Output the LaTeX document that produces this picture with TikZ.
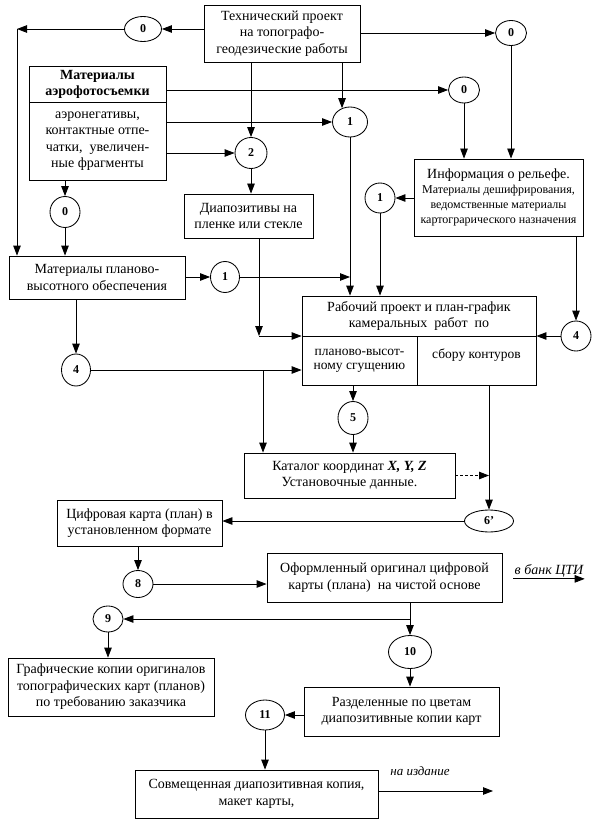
\documentclass[tikz,border=0pt]{standalone}
\usepackage{fontspec}
\setmainfont{Liberation Serif}
\usetikzlibrary{shapes.geometric,arrows.meta}

\begin{document}
\begin{tikzpicture}[x=1pt, y=-1pt, line width=0.85pt, >={Triangle[length=10pt,width=7.5pt]},
  blok/.style={draw, rectangle, align=center, inner sep=2pt, font=\fontsize{14}{16.5}\selectfont},
  krug/.style={draw, ellipse, inner sep=0pt, minimum width=31, minimum height=28, font=\fontsize{12}{13}\selectfont\bfseries}]
\useasboundingbox (0,0) rectangle (605,826);
% boxes
\node[blok, minimum width=156, minimum height=57] (tp) at (282,33.5) {Технический проект\\на топографо-\\геодезические работы};
\node[blok, minimum width=137, minimum height=36, font=\fontsize{14}{16}\selectfont\bfseries] (aeroT) at (97.5,84) {Материалы\\аэрофотосъемки};
\node[blok, minimum width=137, minimum height=78] (aeroB) at (97.5,141) {аэронегативы,\\контактные отпе-\\чатки, \ увеличен-\\ные фрагменты};
\node[blok, minimum width=169, minimum height=77, font=\fontsize{12}{15}\selectfont] (info) at (498.5,197.5) {{\fontsize{14}{15}\selectfont Информация о рельефе.}\\Материалы дешифрирования,\\ведомственные материалы\\картограрического назначения};
\node[blok, minimum width=129, minimum height=44] (dia) at (248.5,216) {Диапозитивы на\\пленке или стекле};
\node[blok, minimum width=176, minimum height=43] (mpv) at (97,277.5) {Материалы планово-\\высотного обеспечения};
\node[blok, minimum width=234, minimum height=40, font=\fontsize{14}{15.5}\selectfont] (rpT) at (419,316) {Рабочий проект и план-график\\камеральных \ работ \ по};
\node[blok, minimum width=115, minimum height=49, font=\fontsize{13.5}{14}\selectfont] (rpL) at (359.5,360.5) {планово-высот-\\ному сгущению};
\node[blok, minimum width=119, minimum height=49, font=\fontsize{13.5}{14}\selectfont] (rpR) at (476.5,360.5) {сбору контуров\\\mbox{}};
\node[blok, minimum width=211, minimum height=45] (kat) at (349.5,475.5) {Каталог координат \textbf{\textit{X, Y, Z}}\\Установочные данные.};
\node[blok, minimum width=165, minimum height=46] (cif) at (139.5,523) {Цифровая карта (план) в\\установленном формате};
\node[blok, minimum width=235, minimum height=49] (of) at (384.5,577.5) {Оформленный оригинал цифровой\\карты (плана) \ на чистой основе};
\node[blok, minimum width=206, minimum height=58] (graf) at (111,687) {Графические копии оригиналов\\топографических карт (планов)\\по требованию заказчика};
\node[blok, minimum width=195, minimum height=49] (raz) at (401.5,711.5) {Разделенные по цветам\\диапозитивные копии карт};
\node[blok, minimum width=243, minimum height=48] (sov) at (256.5,794) {Совмещенная диапозитивная копия,\\макет карты,};
% circles
\node[krug, minimum width=37, minimum height=25] (z0a) at (143,29) {0};
\node[krug, minimum height=25] (z0b) at (511,33) {0};
\node[krug, minimum height=26] (z0c) at (464,90) {0};
\node[krug, minimum width=35, minimum height=30] (z1a) at (350,122) {1};
\node[krug, minimum width=32, minimum height=31] (z2) at (251,153) {2};
\node[krug, minimum width=30, minimum height=31] (z0d) at (65,212) {0};
\node[krug, minimum width=30, minimum height=30] (z1b) at (380,198) {1};
\node[krug, minimum width=29, minimum height=31] (z1c) at (225,277) {1};
\node[krug, minimum width=29, minimum height=32] (z4a) at (76,370) {4};
\node[krug, minimum width=30, minimum height=30] (z4b) at (576,336) {4};
\node[krug, minimum width=30, minimum height=33] (z5) at (353,418) {5};
\node[krug, minimum width=49, minimum height=22] (z6) at (489,521) {6’};
\node[krug, minimum width=30, minimum height=27] (z8) at (138,584) {8};
\node[krug, minimum width=30, minimum height=26] (z9) at (108,619) {9};
\node[krug, minimum width=43, minimum height=33] (z10) at (410,652) {10};
\node[krug, minimum width=39, minimum height=30] (z11) at (265,715) {11};
% free texts
\node[inner sep=1pt, font=\fontsize{14}{15}\selectfont\itshape] (bank) at (549,571) {в банк ЦТИ};
\node[font=\fontsize{13}{14}\selectfont\itshape] (izdT) at (420,771) {на издание};
\coordinate (ugol) at (17,29);
\coordinate (d1) at (259,336);
\coordinate (v4) at (263,370);
\coordinate (izd) at (493,791);
% connectors
\draw[->] (tp.west |- z0a) -- (z0a);
\draw[->] (z0a) -- (ugol);
\draw[->] (ugol) -- (ugol |- mpv.north);
\draw[->] (tp.east |- z0b) -- (z0b);
\draw[->] (z0b) -- (z0b |- info.north);
\draw[->] (aeroT.east |- z0c) -- (z0c);
\draw[->] (z0c) -- (z0c |- info.north);
\draw[->] (aeroB.east |- z1a) -- (z1a);
\draw[->] (tp.south -| z1a.120) -- (z1a.120);
\draw[->] (aeroB.east |- z2) -- (z2);
\draw[->] (tp.south -| z2) -- (z2);
\draw[->] (z2) -- (z2 |- dia.north);
\draw[->] (aeroB.south -| z0d) -- (z0d);
\draw[->] (z0d) -- (z0d |- mpv.north);
\draw[->] (mpv.east |- z1c) -- (z1c);
\draw[->] (z1c) -- (z1c -| z1a);
\draw[->] (z1a) -- (z1a |- rpT.north);
\draw[->] (info.west |- z1b) -- (z1b);
\draw[->] (z1b) -- (z1b |- rpT.north);
\draw[->] (info.south -| z4b) -- (z4b);
\draw[->] (z4b) -- (z4b -| rpT.east);
\draw[->] (dia.south -| d1) -- (d1);
\draw[->] (d1) -- (d1 -| rpT.west);
\draw[->] (mpv.south -| z4a) -- (z4a);
\draw[->] (z4a) -- (z4a -| rpL.west);
\draw[->] (v4) -- (v4 |- kat.north);
\draw[->] (rpL.south -| z5) -- (z5);
\draw[->] (z5) -- (z5 |- kat.north);
\draw[->] (rpR.south -| z6) -- (z6);
\draw[->, densely dashed] (kat.east) -- (kat.east -| z6);
\draw[->] (z6) -- (z6 -| cif.east);
\draw[->] (cif.south -| z8) -- (z8);
\draw[->] (z8) -- (z8 -| of.west);
\draw[->] (bank.south west) -- (bank.south east);
\draw[->] (of.south -| z10) -- (z10);
\draw[->] (z9 -| z10) -- (z9);
\draw[->] (z9) -- (z9 |- graf.north);
\draw[->] (z10) -- (z10 |- raz.north);
\draw[->] (raz.west |- z11) -- (z11);
\draw[->] (z11) -- (z11 |- sov.north);
\draw[->] (sov.east |- izd) -- (izd);
\end{tikzpicture}
\end{document}
